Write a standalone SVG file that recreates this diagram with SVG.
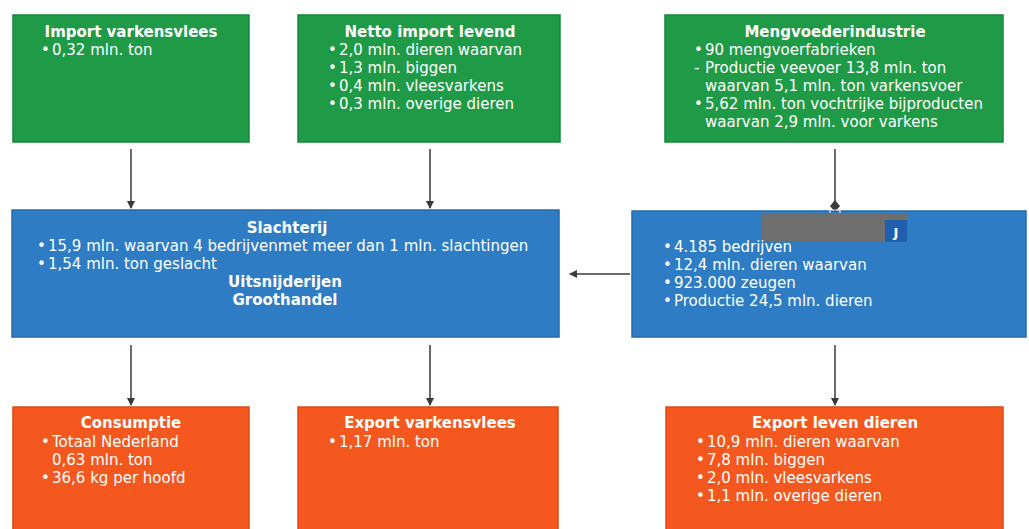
<svg xmlns="http://www.w3.org/2000/svg" width="1029" height="529" viewBox="0 0 1029 529">
<defs>
<style>
.green{fill:#1f9a47;stroke:#17843b;stroke-width:1.5}
.blue{fill:#2e7cc3;stroke:#2469ab;stroke-width:1.5}
.orange{fill:#f4581f;stroke:#dc4a16;stroke-width:1.5}
text{font-family:"DejaVu Sans","Verdana",sans-serif;fill:#ffffff;font-size:15px}
.t{font-weight:bold;text-anchor:middle}
.c{stroke:#3a3a3a;stroke-width:1.5;fill:none}
</style>
<marker id="ah" markerWidth="10" markerHeight="10" refX="7" refY="4" orient="auto" markerUnits="userSpaceOnUse">
<path d="M0,0 L8,4 L0,8 Z" fill="#3a3a3a"/>
</marker>
<marker id="dh" markerWidth="12" markerHeight="12" refX="6" refY="6" orient="auto" markerUnits="userSpaceOnUse">
<path d="M0,6 L6,1 L12,6 L6,11 Z" fill="#3a3a3a"/>
</marker>
</defs>
<rect width="1029" height="529" fill="#ffffff"/>

<g id="import-varkensvlees">
<rect class="green" x="13" y="15" width="236" height="127"/>
<text class="t" x="131" y="37">Import varkensvlees</text>
<text x="41" y="55">•<tspan x="52">0,32 mln. ton</tspan></text>
</g>

<g id="netto-import">
<rect class="green" x="298" y="15" width="262" height="127"/>
<text class="t" x="430" y="37">Netto import levend</text>
<text x="328" y="55">•<tspan x="339">2,0 mln. dieren waarvan</tspan></text>
<text x="328" y="73">•<tspan x="339">1,3 mln. biggen</tspan></text>
<text x="328" y="91">•<tspan x="339">0,4 mln. vleesvarkens</tspan></text>
<text x="328" y="109">•<tspan x="339">0,3 mln. overige dieren</tspan></text>
</g>

<g id="mengvoederindustrie">
<rect class="green" x="665" y="15" width="338" height="127"/>
<text class="t" x="835" y="37">Mengvoederindustrie</text>
<text x="694" y="55">•<tspan x="705">90 mengvoerfabrieken</tspan></text>
<text x="694" y="73">-<tspan x="705">Productie veevoer 13,8 mln. ton</tspan></text>
<text x="705" y="91">waarvan 5,1 mln. ton varkensvoer</text>
<text x="694" y="109">•<tspan x="705">5,62 mln. ton vochtrijke bijproducten</tspan></text>
<text x="705" y="127">waarvan 2,9 mln. voor varkens</text>
</g>

<g id="slachterij">
<rect class="blue" x="12" y="210" width="547" height="127"/>
<text class="t" x="287" y="233">Slachterij</text>
<text x="37" y="251">•<tspan x="48">15,9 mln. waarvan 4 bedrijvenmet meer dan 1 mln. slachtingen</tspan></text>
<text x="37" y="269">•<tspan x="48">1,54 mln. ton geslacht</tspan></text>
<text class="t" x="285" y="287">Uitsnijderijen</text>
<text class="t" x="285" y="305">Groothandel</text>
</g>

<g id="varkenshouderij">
<rect class="blue" x="632" y="211" width="394" height="126"/>
<rect x="762" y="213" width="145" height="29" fill="#6e6e6e"/>
<rect x="885" y="220" width="22" height="22" fill="#1f5fae"/>
<text x="896" y="237" style="font-weight:bold;font-size:13px;text-anchor:middle">J</text>
<text x="663" y="252">•<tspan x="674">4.185 bedrijven</tspan></text>
<text x="663" y="270">•<tspan x="674">12,4 mln. dieren waarvan</tspan></text>
<text x="663" y="288">•<tspan x="674">923.000 zeugen</tspan></text>
<text x="663" y="306">•<tspan x="674">Productie 24,5 mln. dieren</tspan></text>
</g>

<g id="consumptie">
<rect class="orange" x="13" y="407" width="236" height="130"/>
<text class="t" x="131" y="428">Consumptie</text>
<text x="41" y="447">•<tspan x="52">Totaal Nederland</tspan></text>
<text x="52" y="465">0,63 mln. ton</text>
<text x="41" y="483">•<tspan x="52">36,6 kg per hoofd</tspan></text>
</g>

<g id="export-varkensvlees">
<rect class="orange" x="298" y="407" width="260" height="130"/>
<text class="t" x="430" y="428">Export varkensvlees</text>
<text x="328" y="447">•<tspan x="339">1,17 mln. ton</tspan></text>
</g>

<g id="export-levende-dieren">
<rect class="orange" x="666" y="407" width="337" height="130"/>
<text class="t" x="835" y="428">Export leven dieren</text>
<text x="696" y="447">•<tspan x="707">10,9 mln. dieren waarvan</tspan></text>
<text x="696" y="465">•<tspan x="707">7,8 mln. biggen</tspan></text>
<text x="696" y="483">•<tspan x="707">2,0 mln. vleesvarkens</tspan></text>
<text x="696" y="501">•<tspan x="707">1,1 mln. overige dieren</tspan></text>
</g>

<g id="connectors">
<line class="c" x1="131" y1="149" x2="131" y2="208" marker-end="url(#ah)"/>
<line class="c" x1="430" y1="149" x2="430" y2="208" marker-end="url(#ah)"/>
<line class="c" x1="835" y1="149" x2="835" y2="206" marker-end="url(#dh)"/>
<path d="M830,213 L830,210 L840,210 L840,213" fill="none" stroke="#e8e8e8" stroke-width="1.2"/>
<line class="c" x1="630" y1="274" x2="570" y2="274" marker-end="url(#ah)"/>
<line class="c" x1="131" y1="345" x2="131" y2="405" marker-end="url(#ah)"/>
<line class="c" x1="430" y1="345" x2="430" y2="405" marker-end="url(#ah)"/>
<line class="c" x1="835" y1="345" x2="835" y2="405" marker-end="url(#ah)"/>
</g>
</svg>
